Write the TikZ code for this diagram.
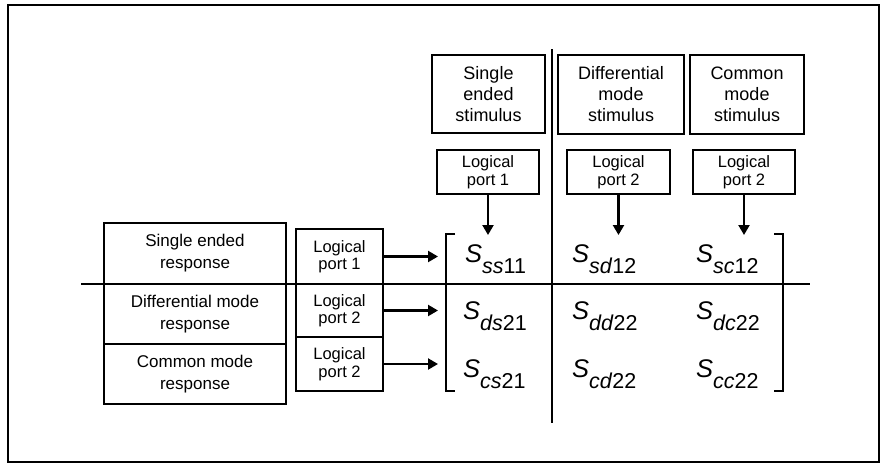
\documentclass[tikz,border=0pt]{standalone}
\usepackage{fontspec}
\setmainfont{Liberation Sans}
\usetikzlibrary{arrows.meta}

\newcommand{\sent}[2]{\fontsize{25.5}{25.5}\selectfont\textit{S}\raisebox{-11pt}{\fontsize{21.5}{21.5}\selectfont\textit{#1}#2}}

\begin{document}
\begin{tikzpicture}[x=1pt, y=-1pt]
    % Styles
    \tikzstyle{label box}=[draw, line width=2.3pt, align=center, inner sep=0pt, font=\fontsize{18}{21}\selectfont]
    \tikzstyle{resp box}=[draw, line width=2.3pt, align=center, inner sep=0pt, font=\fontsize{17}{22}\selectfont]
    \tikzstyle{port box}=[draw, line width=2.3pt, align=center, inner sep=0pt, font=\fontsize{16.5}{17.5}\selectfont]
    \tikzstyle{arrow}=[line width=2.2pt, -{Triangle[length=10pt, width=11pt]}]
    \tikzstyle{rule}=[line width=1.6pt]
    \tikzstyle{entry}=[anchor=base west, inner sep=0pt]

    \useasboundingbox (0,0) rectangle (880,464);
    \draw[line width=1.8pt] (8,5) rectangle (879,462);

    % --- Dividing lines ---
    \draw[rule] (552,49) -- (552,423);
    \draw[rule] (81,284) -- (810,284);

    % --- Stimulus boxes (top) ---
    \node[label box, minimum width=113, minimum height=78] (stim_se) at (488.5,94) {Single\\ended\\stimulus};
    \node[label box, minimum width=126, minimum height=79] (stim_dm) at (621,94.5) {Differential\\mode\\stimulus};
    \node[label box, minimum width=114, minimum height=79] (stim_cm) at (747,94.5) {Common\\mode\\stimulus};

    % Logical ports for the columns
    \node[port box, minimum width=102, minimum height=44] (tp_1) at (488,172) {Logical\\port 1};
    \node[port box, minimum width=103, minimum height=44] (tp_2) at (618.5,172) {Logical\\port 2};
    \node[port box, minimum width=102, minimum height=44] (tp_3) at (744,172) {Logical\\port 2};

    % --- Response boxes (left) ---
    \node[resp box, minimum width=182, minimum height=61] (resp_se) at (195,253.5) {Single ended\\response};
    \node[resp box, minimum width=182, minimum height=60] (resp_dm) at (195,314) {Differential mode\\response};
    \node[resp box, minimum width=182, minimum height=60] (resp_cm) at (195,374) {Common mode\\response};

    % Logical ports for the rows
    \node[port box, minimum width=87, minimum height=55] (lp_1) at (339.5,256.5) {Logical\\port 1};
    \node[port box, minimum width=87, minimum height=53] (lp_2) at (339.5,310.5) {Logical\\port 2};
    \node[port box, minimum width=87, minimum height=54] (lp_3) at (339.5,364) {Logical\\port 2};

    % --- Matrix ---
    % Arrow tips
    \coordinate (row_in) at (438,0);
    \coordinate (col_in) at (0,235);

    \draw[arrow] (tp_1.south) -- (tp_1.south |- col_in);
    \draw[arrow] (tp_2.south) -- (tp_2.south |- col_in);
    \draw[arrow] (tp_3.south) -- (tp_3.south |- col_in);

    \draw[arrow] (lp_1.east) -- (lp_1.east -| row_in);
    \draw[arrow] (lp_2.east) -- (lp_2.east -| row_in);
    \draw[arrow] (lp_3.east) -- (lp_3.east -| row_in);

    % Brackets
    \draw[rule] (455,234) -- (446,234) -- (446,391) -- (455,391);
    \draw[rule] (774,234) -- (783,234) -- (783,391) -- (774,391);

    % Entries
    \node[entry] (s_11) at (465,262) {\sent{ss}{11}};
    \node[entry] (s_12) at (572,262) {\sent{sd}{12}};
    \node[entry] (s_13) at (696,262) {\sent{sc}{12}};

    \node[entry] (s_21) at (463,319) {\sent{ds}{21}};
    \node[entry] (s_22) at (572,319) {\sent{dd}{22}};
    \node[entry] (s_23) at (696,319) {\sent{dc}{22}};

    \node[entry] (s_31) at (463,377) {\sent{cs}{21}};
    \node[entry] (s_32) at (572,377) {\sent{cd}{22}};
    \node[entry] (s_33) at (696,377) {\sent{cc}{22}};

\end{tikzpicture}
\end{document}
